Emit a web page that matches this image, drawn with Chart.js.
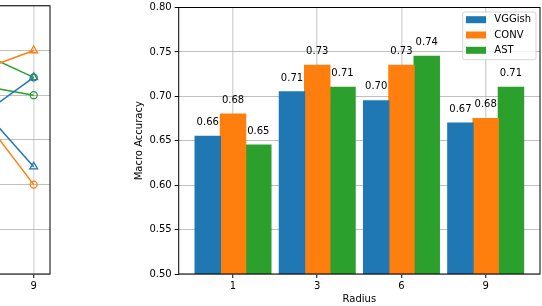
<!DOCTYPE html>
<html>
<head>
<meta charset="utf-8">
<script src="https://cdn.jsdelivr.net/npm/chart.js@4.4.1/dist/chart.umd.min.js"></script>
<style>
    html, body { margin: 0; padding: 0; background: #fff; }
    body { width: 542px; height: 306px; position: relative; overflow: hidden; }
    canvas { position: absolute; top: 0; }
    #chartLinhas { left: -320px; }
    #chartBarras { left: 60px; }
</style>
</head>
<body>
<canvas id="chartLinhas" width="380" height="306"></canvas>
<canvas id="chartBarras" width="482" height="306"></canvas>
<script>
// dados
const radii = ['1', '3', '6', '9'];
const yTicks = [0.50, 0.55, 0.60, 0.65, 0.70, 0.75, 0.80];

const vggish = [0.655, 0.705, 0.695, 0.670];
const conv = [0.680, 0.735, 0.735, 0.675];
const ast = [0.645, 0.710, 0.745, 0.710];

const rotVggish = ['0.66', '0.71', '0.70', '0.67'];
const rotConv = ['0.68', '0.73', '0.73', '0.68'];
const rotAst = ['0.65', '0.71', '0.74', '0.71'];

// grafico de linhas da esquerda (so 6 e 9 aparecem)
const vggishCirc = [null, null, 0.632, 0.72];
const vggishTri = [null, null, 0.757, 0.62];
const convCirc = [null, null, 0.76, 0.60];
const convTri = [null, null, 0.705, 0.75];
const astCirc = [null, null, 0.722, 0.70];
const astTri = [null, null, 0.776, 0.72];

const azul = '#1f77b4', laranja = '#ff7f0e', verde = '#2ca02c';
const fonte = { family: '"DejaVu Sans", sans-serif', size: 10 };

Chart.defaults.font.family = fonte.family;
Chart.defaults.font.size = 10;
Chart.defaults.color = '#000';

const pontos = arr => arr.map((v, i) => ({ x: i, y: v }));

// moldura preta (as 4 bordas)
const moldura = {
    id: 'moldura',
    afterDraw(chart) {
        const { ctx, chartArea: a } = chart;
        ctx.save();
        ctx.strokeStyle = '#000';
        ctx.lineWidth = 1;
        ctx.strokeRect(a.left, a.top, a.right - a.left, a.bottom - a.top);
        ctx.restore();
    }
};

const eixoY = (mostrar) => ({
    type: 'linear',
    min: 0.5,
    max: 0.8,
    z: 1,
    afterBuildTicks: s => { s.ticks = yTicks.map(v => ({ value: v })); },
    ticks: {
        display: mostrar,
        padding: 3,
        font: { ...fonte, lineHeight: 0.9 },
        callback: v => v.toFixed(2)
    },
    grid: { color: '#b0b0b0', lineWidth: 0.8, tickColor: '#000', tickLength: 4, tickWidth: 1 },
    border: { display: false }
});

const eixoX = (min, max, corGrade) => ({
    type: 'linear',
    min: min,
    max: max,
    offset: false,
    z: 1,
    afterBuildTicks: s => { s.ticks = radii.map((r, i) => ({ value: i })); },
    afterFit: s => { s.height = 32; },
    ticks: { padding: 2, callback: v => radii[v] },
    grid: { offset: false, color: corGrade, lineWidth: 1.5, tickColor: '#000', tickLength: 4, tickWidth: 1 },
    border: { display: false }
});

// Grafico de linhas (cortado)
new Chart(document.getElementById('chartLinhas'), {
    type: 'line',
    data: {
        datasets: [
            { label: 'VGGish', data: pontos(vggishCirc), borderColor: azul, pointStyle: 'circle' },
            { label: 'VGGish', data: pontos(vggishTri), borderColor: azul, pointStyle: 'triangle' },
            { label: 'CONV', data: pontos(convCirc), borderColor: laranja, pointStyle: 'circle' },
            { label: 'CONV', data: pontos(convTri), borderColor: laranja, pointStyle: 'triangle' },
            { label: 'AST', data: pontos(astCirc), borderColor: verde, pointStyle: 'circle' },
            { label: 'AST', data: pontos(astTri), borderColor: verde, pointStyle: 'triangle' }
        ].map(ds => ({
            ...ds,
            borderWidth: 1.5,
            pointRadius: ds.pointStyle === 'triangle' ? 4.5 : 3.5,
            pointBorderColor: ds.borderColor,
            pointBackgroundColor: 'rgba(255,255,255,0)',
            pointBorderWidth: 1.3,
            tension: 0
        }))
    },
    options: {
        responsive: false,
        animation: false,
        devicePixelRatio: 1,
        layout: { padding: { left: 0, right: 10, top: 4.5, bottom: 0 } },
        plugins: { legend: { display: false }, tooltip: { enabled: false } },
        scales: {
            x: eixoX(-0.15, 3.15, '#dcdcdc'),
            y: { ...eixoY(false), afterFit: s => { s.width = 11.4; } }
        }
    },
    plugins: [moldura]
});

// Rotulos em cima das barras
const rotulos = [rotVggish, rotConv, rotAst];
const rotulosBarras = {
    id: 'rotulosBarras',
    afterDraw(chart) {
        const { ctx, scales: { y } } = chart;
        ctx.save();
        ctx.font = '10px "DejaVu Sans"';
        ctx.fillStyle = '#000';
        ctx.textAlign = 'center';
        ctx.textBaseline = 'bottom';
        chart.data.datasets.forEach((ds, d) => {
            chart.getDatasetMeta(d).data.forEach((bar, i) => {
                ctx.fillText(rotulos[d][i], bar.x, y.getPixelForValue(ds.data[i].y + 0.01));
            });
        });
        ctx.restore();
    }
};

// legenda dentro do grafico, canto superior direito
const legendaInterna = {
    id: 'legendaInterna',
    afterDraw(chart) {
        const { ctx, chartArea: a } = chart;
        const w = 73.3, h = 47.7;
        const x0 = a.right - 4 - w;
        const y0 = a.top + 4.5;
        ctx.save();
        ctx.beginPath();
        ctx.roundRect(x0, y0, w, h, 2);
        ctx.fillStyle = 'rgba(255,255,255,0.8)';
        ctx.fill();
        ctx.strokeStyle = 'rgba(204,204,204,0.8)';
        ctx.lineWidth = 1;
        ctx.stroke();
        ctx.font = '10px "DejaVu Sans"';
        ctx.textBaseline = 'middle';
        ctx.textAlign = 'left';
        chart.data.datasets.forEach((ds, i) => {
            const cy = y0 + 7.7 + i * 15.3;
            ctx.fillStyle = ds.backgroundColor;
            ctx.fillRect(x0 + 3.3, cy - 3.5, 20, 7);
            ctx.fillStyle = '#000';
            ctx.fillText(ds.label, x0 + 31.6, cy);
        });
        ctx.restore();
    }
};

// Grafico de barras
new Chart(document.getElementById('chartBarras'), {
    type: 'bar',
    data: {
        datasets: [
            { label: 'VGGish', data: pontos(vggish), backgroundColor: azul },
            { label: 'CONV', data: pontos(conv), backgroundColor: laranja },
            { label: 'AST', data: pontos(ast), backgroundColor: verde }
        ]
    },
    options: {
        responsive: false,
        animation: false,
        devicePixelRatio: 1,
        categoryPercentage: 0.9,
        barPercentage: 1,
        elements: { bar: { borderWidth: 0, inflateAmount: 0.6 } },
        layout: { padding: { left: 70, right: 2, top: 4.5, bottom: 0 } },
        plugins: { legend: { display: false }, tooltip: { enabled: false } },
        scales: {
            x: {
                ...eixoX(-0.645, 3.645, 'rgba(176,176,176,0.5)'),
                title: { display: true, text: 'Radius', font: fonte, padding: { top: 0, bottom: 1 } }
            },
            y: {
                ...eixoY(true),
                afterFit: s => { s.width = 48.7; },
                title: { display: true, text: 'Macro Accuracy', font: fonte, padding: { top: 3, bottom: 0 } }
            }
        }
    },
    plugins: [moldura, rotulosBarras, legendaInterna]
});
</script>
</body>
</html>
